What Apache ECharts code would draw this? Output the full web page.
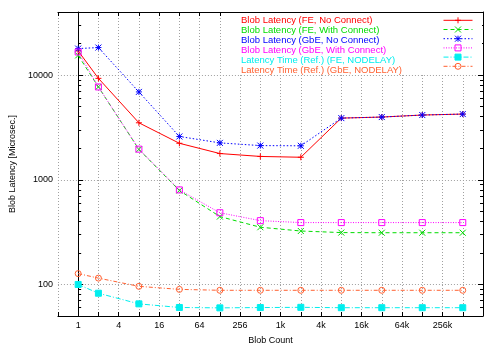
<!DOCTYPE html>
<html>
<head>
<meta charset="utf-8">
<script src="https://cdn.jsdelivr.net/npm/echarts@6/dist/echarts.min.js"></script>
<style>
  html, body { margin: 0; padding: 0; background: #fff; }
  #chart { width: 500px; height: 350px; }
</style>
</head>
<body>
<div id="chart"></div>
<script>
// blob counts (x, log2 scale) and latencies in microseconds (y, log10 scale)
const blobCounts = [1, 2, 8, 32, 128, 512, 2048, 8192, 32768, 131072, 524288]
const feNoConnect = [17000, 9300, 3500, 2230, 1780, 1670, 1640, 3880, 3970, 4150, 4240]
const feWithConnect = [15400, 7700, 1950, 790, 445, 352, 324, 313, 312, 312, 312]
const gbeNoConnect = [17900, 18300, 6900, 2590, 2250, 2120, 2110, 3880, 3970, 4150, 4240]
const gbeWithConnect = [16600, 7700, 1960, 800, 484, 407, 390, 390, 390, 390, 390]
const feNodelay = [100, 82.5, 65.3, 60.3, 59.8, 60.2, 60.5, 60, 60, 60, 60]
const gbeNodelay = [127, 115, 96, 89.8, 88, 88, 88, 88, 88, 88, 88]

const seriesNames = [
  'Blob Latency (FE, No Connect)',
  'Blob Latency (FE, With Connect)',
  'Blob Latency (GbE, No Connect)',
  'Blob Latency (GbE, With Connect)',
  'Latency Time (Ref.) (FE, NODELAY)',
  'Latency Time (Ref.) (GbE, NODELAY)'
]
const seriesValues = [feNoConnect, feWithConnect, gbeNoConnect, gbeWithConnect, feNodelay, gbeNodelay]

const xTickLabels = ['1', '4', '16', '64', '256', '1k', '4k', '16k', '64k', '256k']
const yTickLabels = ['100', '1000', '10000']
const yMinorTicks = [60, 70, 80, 90, 200, 300, 400, 500, 600, 700, 800, 900,
  2000, 3000, 4000, 5000, 6000, 7000, 8000, 9000, 20000, 30000]

const colors = ['#ff0000', '#00dd00', '#0000ff', '#ff00ff', '#00eeee', '#ff6030']
const dashes = ['solid', [4, 3], [1.5, 2], [1, 1.5], [5, 2, 1, 2], [4, 2, 1, 2]]
const symbols = [
  'path://M0,5L10,5M5,0L5,10',
  'path://M0,0L10,10M10,0L0,10',
  'path://M0,0L10,10M10,0L0,10M5,0L5,10M0,5L10,5',
  'rect',
  'rect',
  'circle'
]
const filled = [false, false, false, false, true, false]
const symbolSizes = [6, 6, 6, 6, 6, 6]

const yMin = Math.log10(50)
const yMax = Math.log10(40000)
const yMajor = yTickLabels.map(t => Math.log10(Number(t)))
const yMinor = yMinorTicks.map(v => Math.log10(v))
const xLabelPos = xTickLabels.map((t, i) => i * 2)

const font = 'Liberation Sans, Arial, sans-serif'
const grid = '#a0a0a0'

function yAxis(position, minor) {
  return {
    type: 'value',
    position: position,
    min: yMin,
    max: yMax,
    name: (position === 'left' && !minor) ? 'Blob Latency [Microsec.]' : '',
    nameLocation: 'middle',
    nameGap: 38,
    nameTextStyle: { fontFamily: font, fontSize: 9, color: '#000' },
    axisLine: { show: !minor, lineStyle: { color: '#000', width: 1 } },
    axisTick: {
      show: true,
      inside: true,
      length: minor ? 3 : 5,
      customValues: minor ? yMinor : yMajor,
      lineStyle: { color: '#000', width: 1 }
    },
    axisLabel: {
      show: position === 'left' && !minor,
      customValues: yMajor,
      margin: 5,
      fontFamily: font,
      fontSize: 9,
      color: '#000',
      formatter: v => yTickLabels[yMajor.findIndex(m => Math.abs(m - v) < 1e-6)] || ''
    },
    splitLine: {
      show: position === 'left' && !minor,
      lineStyle: { color: grid, type: [1, 2], width: 1 }
    }
  }
}

function xAxis(position) {
  return {
    type: 'value',
    position: position,
    min: -1,
    max: 20,
    interval: 1,
    name: position === 'bottom' ? 'Blob Count' : '',
    nameLocation: 'middle',
    nameGap: 20,
    nameTextStyle: { fontFamily: font, fontSize: 9, color: '#000' },
    axisLine: { show: true, lineStyle: { color: '#000', width: 1 } },
    axisTick: { show: true, inside: true, length: 4, lineStyle: { color: '#000', width: 1 } },
    axisLabel: {
      show: position === 'bottom',
      customValues: xLabelPos,
      margin: 5,
      fontFamily: font,
      fontSize: 9,
      color: '#000',
      formatter: v => xTickLabels[Math.round(v / 2)] || ''
    },
    splitLine: {
      show: position === 'bottom',
      lineStyle: { color: grid, type: [1, 2], width: 1 }
    }
  }
}

const series = seriesValues.map((vals, i) => ({
  name: seriesNames[i],
  type: 'line',
  xAxisIndex: 0,
  yAxisIndex: 0,
  data: vals.map((v, j) => [Math.log2(blobCounts[j]), Math.log10(v)]),
  symbol: symbols[i],
  symbolSize: symbolSizes[i],
  showAllSymbol: true,
  animation: false,
  lineStyle: { color: colors[i], width: 1, type: dashes[i] },
  itemStyle: {
    color: filled[i] ? colors[i] : 'rgba(0,0,0,0)',
    borderColor: colors[i],
    borderWidth: 1
  },
  z: 3 + i
}))

const legendText = {
  fontFamily: font,
  fontSize: 9.5,
  lineHeight: 9.7
}

const chart = echarts.init(document.getElementById('chart'), null, { renderer: 'canvas' })
chart.setOption({
  animation: false,
  backgroundColor: '#fff',
  grid: { left: 56, right: 17, top: 12, bottom: 29 },
  xAxis: [xAxis('bottom'), xAxis('top')],
  yAxis: [yAxis('left', false), yAxis('left', true), yAxis('right', false), yAxis('right', true)],
  // white key box hiding the grid behind the key
  graphic: [{
    type: 'rect',
    z: 1,
    shape: { x: 237, y: 13, width: 245, height: 61 },
    style: { fill: '#fff' },
    silent: true
  }],
  legend: [
    {
      // key texts, left aligned
      left: 235,
      top: 15.8,
      orient: 'vertical',
      padding: 0,
      itemGap: 0,
      itemWidth: 0,
      itemHeight: 0,
      icon: 'rect',
      selectedMode: false,
      textStyle: legendText,
      data: seriesNames.map((n, i) => ({ name: n, textStyle: { color: colors[i] } }))
    },
    {
      // key samples, in a column at the right
      left: 443,
      top: 16.8,
      orient: 'vertical',
      padding: 0,
      itemGap: 2.2,
      itemWidth: 29,
      itemHeight: 7.5,
      selectedMode: false,
      lineStyle: { width: 1 },
      itemStyle: { borderWidth: 1 },
      textStyle: legendText,
      formatter: () => '',
      data: seriesNames
    }
  ],
  series: series
})
</script>
</body>
</html>
